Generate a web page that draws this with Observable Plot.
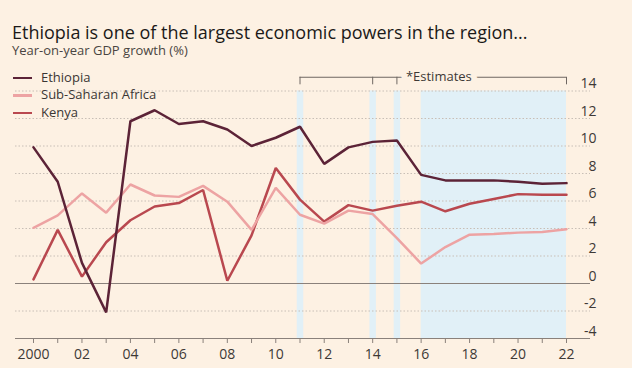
<!DOCTYPE html>
<html><head><meta charset="utf-8">
<script src="https://cdn.jsdelivr.net/npm/d3@7"></script>
<script src="https://cdn.jsdelivr.net/npm/@observablehq/plot@0.6"></script>
<style>
body{margin:0;background:#fdf1e3;font-family:"Open Sans",sans-serif;}
#wrap{position:relative;width:632px;height:368px;overflow:hidden;background:#fdf1e3;}
#title{position:absolute;left:12px;top:23px;font-size:18px;line-height:18px;color:#1b1918;white-space:nowrap;}
#sub{position:absolute;left:12px;top:43.5px;font-size:13px;line-height:13px;color:#4a4542;white-space:nowrap;}
#chart{position:absolute;left:0;top:62px;}
#legend{position:absolute;left:13px;top:0;font-size:13px;color:#3a3634;}
.item{position:absolute;left:0;white-space:nowrap;height:14px;line-height:14px;}
.sw{display:inline-block;width:19px;height:2.5px;vertical-align:middle;margin-right:9px;}
</style></head><body>
<div id="wrap">
  <div id="title">Ethiopia is one of the largest economic powers in the region...</div>
  <div id="sub">Year-on-year GDP growth (%)</div>
  <div id="chart"></div>
  <div id="legend"></div>
</div>
<script>
const years = [2000,2001,2002,2003,2004,2005,2006,2007,2008,2009,2010,2011,2012,2013,2014,2015,2016,2017,2018,2019,2020,2021,2022];
const ethiopia = [9.9,7.4,1.5,-2.1,11.8,12.6,11.6,11.8,11.2,10.0,10.6,11.4,8.7,9.9,10.3,10.4,7.9,7.5,7.5,7.5,7.4,7.25,7.3];
const ssa      = [4.05,4.95,6.55,5.15,7.2,6.4,6.3,7.1,5.95,3.9,6.95,5.0,4.35,5.3,5.05,3.3,1.45,2.65,3.55,3.6,3.7,3.75,3.95];
const kenya    = [0.3,3.9,0.5,3.0,4.6,5.6,5.85,6.8,0.2,3.5,8.4,6.1,4.5,5.7,5.3,5.65,5.95,5.25,5.8,6.15,6.5,6.45,6.45];
const seriesNames = ["Ethiopia","Sub-Saharan Africa","Kenya"];
const seriesColors = ["#5c2337","#eda3a3","#b9484f"];
const yTicks = [-4,-2,0,2,4,6,8,10,12,14];
const estimateYears = [2011,2014,2015];
const estimateRange = [{start:2016,end:2022}];
const bracket = [{start:2011,end:2022,level:15,tickEnd:14.45}];
const bracketTicks = [2011,2014,2015,2022];
const bracketLabel = "*Estimates";

const bg = "#fdf1e3", band = "#e1f0f7", axisCol = "#8a817b", textCol = "#3d3936";
const valuesBySeries = [ethiopia, ssa, kenya];
const rows = [];
[2,1,0].forEach(k => years.forEach((yr,i) => rows.push({series:seriesNames[k], year:yr, value:valuesBySeries[k][i], color:seriesColors[k]})));

const fmtYear = d => d % 2 ? "" : (d === 2000 ? "2000" : String(d % 100).padStart(2,"0"));

const chart = Plot.plot({
  width:632, height:306,
  marginLeft:15, marginRight:42, marginTop:28.5, marginBottom:30,
  x:{domain:[2000,2022], range:[33,566], axis:null},
  y:{domain:[-4,14], axis:null},
  style:{background:"transparent", fontFamily:"'Open Sans', sans-serif", fontSize:"13px", color:textCol},
  marks:[
    Plot.rect(estimateRange, {x1:"start", x2:"end", y1:() => -4, y2:() => 14, fill:band}),
    Plot.ruleX(estimateYears, {x:d=>d, y1:() => -4, y2:() => 14, stroke:band, strokeWidth:6.5}),
    Plot.ruleY(yTicks.filter(d => d !== 0 && d !== -4), {y:d=>d, stroke:"#c8bfb6", strokeDasharray:"1.5,2"}),
    Plot.ruleY([0], {y:d=>d, stroke:axisCol}),
    Plot.ruleY([-4], {y:d=>d, stroke:axisCol}),
    Plot.axisX({ticks:years, tickSize:5, tickPadding:6, tickFormat:fmtYear, stroke:axisCol, fill:textCol, fontSize:14}),
    Plot.text(yTicks, {y:d=>d, text:d=>String(d), frameAnchor:"right", textAnchor:"end", dx:6, dy:-7, fill:textCol, fontSize:14}),
    Plot.ruleY(bracket, {y:"level", x1:"start", x2:"end", stroke:"#6f6762"}),
    Plot.ruleX(bracketTicks, {x:d=>d, y1:() => bracket[0].level, y2:() => bracket[0].tickEnd, stroke:"#6f6762"}),
    Plot.text([bracketLabel], {x:() => 2015, y:() => bracket[0].level, text:d=>d, textAnchor:"start", dx:9, fill:textCol, stroke:bg, strokeWidth:12, fontSize:13}),
    Plot.line(rows, {x:"year", y:"value", z:"series", stroke:"color", strokeWidth:2.5, strokeLinejoin:"miter"})
  ]
});
document.getElementById("chart").appendChild(chart);

const legend = document.getElementById("legend");
const legendY = [76.5, 94, 111.5];
seriesNames.forEach((n,i) => {
  const it = document.createElement("div");
  it.className = "item";
  it.style.top = (legendY[i] - 7) + "px";
  it.innerHTML = `<span class="sw" style="background:${seriesColors[i]}"></span>${n}`;
  legend.appendChild(it);
});
</script>
</body></html>
